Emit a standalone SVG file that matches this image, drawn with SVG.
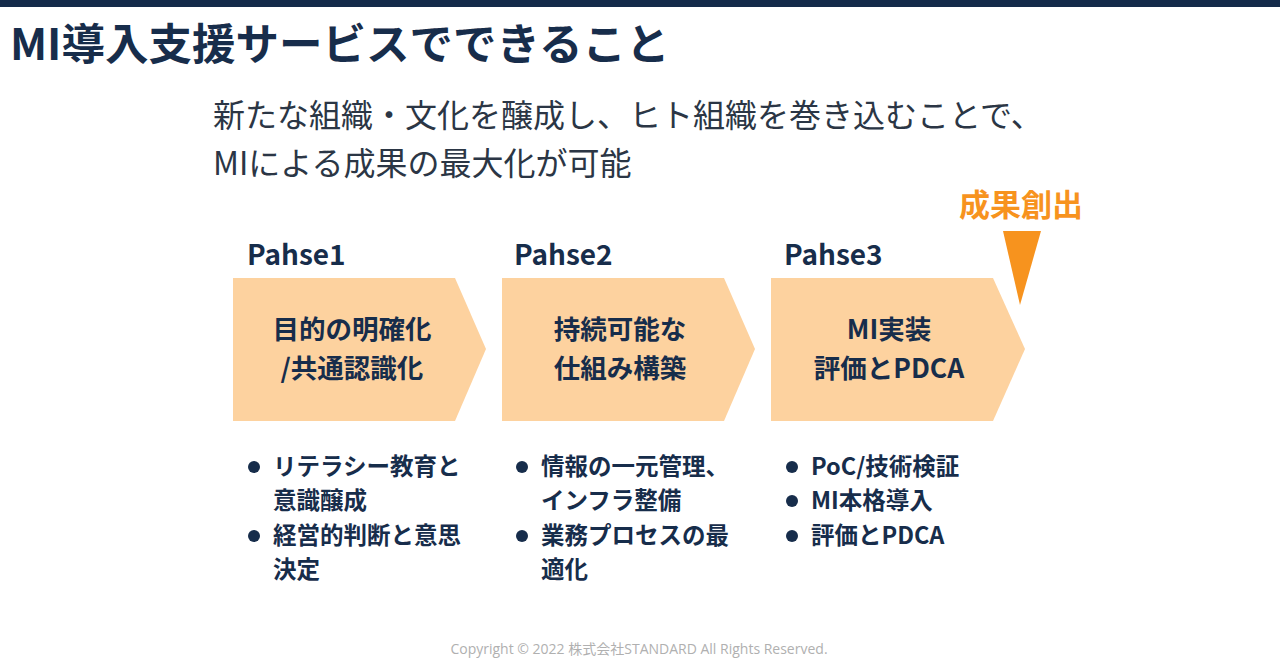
<svg xmlns="http://www.w3.org/2000/svg" width="1280" height="670" viewBox="0 0 1280 670">
<style>
.t{font-family:"Noto Sans CJK JP","Noto Sans",sans-serif;fill:#172d4b}
.b{font-weight:700}
.ph{font-size:28px;font-weight:700}
.ch{font-size:26.5px;font-weight:700;text-anchor:middle}
.li{font-size:23.5px;font-weight:700}
.chev{fill:#fdd29f}
.dot{fill:#172d4b}
.sub{font-size:32px;fill:#2b3645}
</style>
<rect x="0" y="0" width="1280" height="670" fill="#ffffff"/>
<rect x="0" y="0" width="1280" height="7" fill="#142a4a"/>
<text class="t b" x="10" y="60" font-size="43.5">MI導入支援サービスでできること</text>
<g id="subtitle">
<text class="t sub" x="213" y="127">新たな組織・文化を醸成し、ヒト組織を巻き込むことで、</text>
<text class="t sub" x="213" y="175">MIによる成果の最大化が可能</text>
</g>
<g id="goal">
<text class="t b" x="1021" y="216" font-size="31" text-anchor="middle" style="fill:#f7931e">成果創出</text>
<polygon points="1003,231 1041,231 1020,305" fill="#f7931e"/>
</g>
<g id="phase1">
<text class="t ph" x="247" y="265">Pahse1</text>
<polygon class="chev" points="233,278 455,278 486,349 455,421 233,421"/>
<text class="t ch" x="352" y="339">目的の明確化</text>
<text class="t ch" x="352" y="378">/共通認識化</text>
<circle class="dot" cx="254" cy="467" r="6"/>
<text class="t li" x="273" y="475">リテラシー教育と</text>
<text class="t li" x="273" y="509">意識醸成</text>
<circle class="dot" cx="254" cy="536" r="6"/>
<text class="t li" x="273" y="544">経営的判断と意思</text>
<text class="t li" x="273" y="578">決定</text>
</g>
<g id="phase2">
<text class="t ph" x="514" y="265">Pahse2</text>
<polygon class="chev" points="502,278 724,278 755,349 724,421 502,421"/>
<text class="t ch" x="620" y="339">持続可能な</text>
<text class="t ch" x="620" y="378">仕組み構築</text>
<circle class="dot" cx="522" cy="467" r="6"/>
<text class="t li" x="541" y="475">情報の一元管理、</text>
<text class="t li" x="541" y="509">インフラ整備</text>
<circle class="dot" cx="522" cy="536" r="6"/>
<text class="t li" x="541" y="544">業務プロセスの最</text>
<text class="t li" x="541" y="578">適化</text>
</g>
<g id="phase3">
<text class="t ph" x="784" y="265">Pahse3</text>
<polygon class="chev" points="771,278 993,278 1025,349 993,421 771,421"/>
<text class="t ch" x="889" y="339">MI実装</text>
<text class="t ch" x="889" y="378">評価とPDCA</text>
<circle class="dot" cx="792" cy="467" r="6"/>
<text class="t li" x="811" y="475">PoC/技術検証</text>
<circle class="dot" cx="792" cy="501" r="6"/>
<text class="t li" x="811" y="509">MI本格導入</text>
<circle class="dot" cx="792" cy="536" r="6"/>
<text class="t li" x="811" y="544">評価とPDCA</text>
</g>
<g id="connectors"></g>
<text x="639" y="654" font-family="'Open Sans','Noto Sans CJK JP',sans-serif" font-size="14" fill="#b0b0b0" text-anchor="middle">Copyright © 2022 株式会社STANDARD All Rights Reserved.</text>
</svg>
